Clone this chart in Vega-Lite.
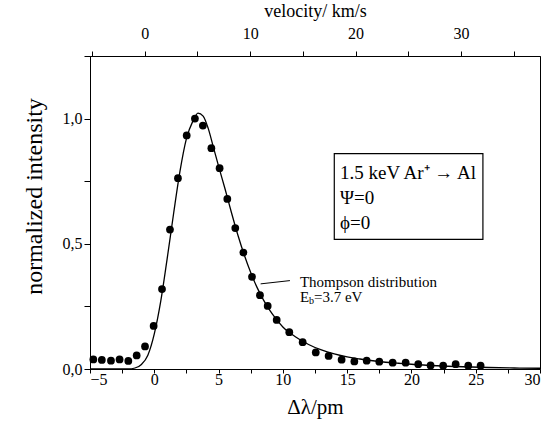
{
  "$schema": "https://vega.github.io/schema/vega-lite/v6.json",
  "width": 450,
  "height": 313,
  "autosize": "none",
  "padding": {"left": 90, "top": 56, "right": 11, "bottom": 52},
  "background": "white",
  "config": {
    "font": "Liberation Serif",
    "view": {"stroke": "black", "strokeWidth": 1},
    "axis": {
      "domainColor": "black", "tickColor": "black", "labelColor": "black", "titleColor": "black",
      "labelFont": "Times New Roman", "titleFont": "Times New Roman", "labelFontSize": 16,
      "titleFontWeight": "normal", "grid": false, "tickSize": 6, "labelPadding": 2
    }
  },
  "datasets": {
    "points": [
      {"dl": -4.74, "val": 0.038}, {"dl": -4.08, "val": 0.036}, {"dl": -3.37, "val": 0.033},
      {"dl": -2.70, "val": 0.038}, {"dl": -2.02, "val": 0.032}, {"dl": -1.37, "val": 0.054},
      {"dl": -0.72, "val": 0.090}, {"dl": -0.05, "val": 0.172}, {"dl": 0.60, "val": 0.319},
      {"dl": 1.22, "val": 0.557}, {"dl": 1.84, "val": 0.762}, {"dl": 2.52, "val": 0.933},
      {"dl": 3.16, "val": 1.000}, {"dl": 3.78, "val": 0.972}, {"dl": 4.44, "val": 0.882},
      {"dl": 5.08, "val": 0.802}, {"dl": 5.68, "val": 0.679}, {"dl": 6.30, "val": 0.563},
      {"dl": 6.93, "val": 0.465}, {"dl": 7.60, "val": 0.368}, {"dl": 8.22, "val": 0.295},
      {"dl": 8.82, "val": 0.252}, {"dl": 9.52, "val": 0.196}, {"dl": 10.50, "val": 0.147},
      {"dl": 11.54, "val": 0.107}, {"dl": 12.56, "val": 0.066}, {"dl": 13.56, "val": 0.052},
      {"dl": 14.57, "val": 0.037}, {"dl": 15.56, "val": 0.030}, {"dl": 16.52, "val": 0.033},
      {"dl": 17.50, "val": 0.029}, {"dl": 18.54, "val": 0.025}, {"dl": 19.55, "val": 0.025},
      {"dl": 20.53, "val": 0.019}, {"dl": 21.49, "val": 0.014}, {"dl": 22.47, "val": 0.013},
      {"dl": 23.44, "val": 0.019}, {"dl": 24.42, "val": 0.013}, {"dl": 25.38, "val": 0.013}
    ],
    "curve": [
      {"dl": -5, "val": 0}, {"dl": -2, "val": 0}, {"dl": -1.5, "val": 0.004}, {"dl": -1.0, "val": 0.018},
      {"dl": -0.5, "val": 0.055}, {"dl": 0.0, "val": 0.14}, {"dl": 0.5, "val": 0.27}, {"dl": 1.0, "val": 0.44},
      {"dl": 1.5, "val": 0.62}, {"dl": 2.0, "val": 0.79}, {"dl": 2.5, "val": 0.92}, {"dl": 3.0, "val": 0.99},
      {"dl": 3.4, "val": 1.022}, {"dl": 3.8, "val": 1.01}, {"dl": 4.2, "val": 0.96}, {"dl": 4.6, "val": 0.885},
      {"dl": 5.0, "val": 0.81}, {"dl": 5.5, "val": 0.72}, {"dl": 6.0, "val": 0.625}, {"dl": 6.5, "val": 0.535},
      {"dl": 7.0, "val": 0.455}, {"dl": 7.5, "val": 0.385}, {"dl": 8.0, "val": 0.325}, {"dl": 8.5, "val": 0.275},
      {"dl": 9.0, "val": 0.233}, {"dl": 9.5, "val": 0.198}, {"dl": 10, "val": 0.168}, {"dl": 11, "val": 0.128},
      {"dl": 12, "val": 0.098}, {"dl": 13, "val": 0.076}, {"dl": 14, "val": 0.060}, {"dl": 15, "val": 0.048},
      {"dl": 16, "val": 0.040}, {"dl": 17, "val": 0.033}, {"dl": 18, "val": 0.027}, {"dl": 19, "val": 0.023},
      {"dl": 20, "val": 0.019}, {"dl": 22, "val": 0.013}, {"dl": 24, "val": 0.009}, {"dl": 26, "val": 0.006},
      {"dl": 28, "val": 0.004}, {"dl": 30, "val": 0.003}
    ],
    "leader": [{"dl": 8.27, "val": 0.34, "dl2": 10.55, "val2": 0.353}],
    "box": [{"dl": 14.0, "dl2": 25.56, "val": 0.86, "val2": 0.518}],
    "boxtext": [
      {"dl": 14.44, "val": 0.783, "label": "1.5 keV Ar⁺ → Al"},
      {"dl": 14.44, "val": 0.683, "label": "Ψ=0"},
      {"dl": 14.44, "val": 0.585, "label": "ϕ=0"}
    ],
    "annot": [
      {"dl": 11.33, "val": 0.349, "label": "Thompson distribution"},
      {"dl": 11.33, "val": 0.289, "label": "E"},
      {"dl": 12.42, "val": 0.289, "label": "=3.7 eV"}
    ],
    "sub": [{"dl": 12.04, "val": 0.272, "label": "b"}],
    "vel": [{"v": 0}, {"v": 10}, {"v": 20}, {"v": 30}]
  },
  "layer": [
    {
      "encoding": {
        "x": {"field": "dl", "type": "quantitative",
          "scale": {"domain": [-5, 30], "nice": false, "zero": false},
          "axis": {"title": "Δλ/pm", "titleFontSize": 21, "titlePadding": 9,
            "labelFont": "Times New Roman", "titleFont": "Times New Roman", "tickSize": 4, "labelPadding": -1.5,
            "values": [-5, -2.5, 0, 2.5, 5, 7.5, 10, 12.5, 15, 17.5, 20, 22.5, 25, 27.5, 30],
            "labelExpr": "datum.value % 5 == 0 ? datum.label : ''"}},
        "y": {"field": "val", "type": "quantitative",
          "scale": {"domain": [0, 1.25], "nice": false},
          "axis": {"title": "normalized intensity", "titleFontSize": 24, "titlePadding": 16, "titleY": 140,
            "labelFont": "Times New Roman", "titleFont": "Times New Roman",
            "values": [0, 0.25, 0.5, 0.75, 1.0, 1.25],
            "labelExpr": "(datum.value * 2) % 1 == 0 ? replace(format(datum.value, '.1f'), '.', ',') : ''"}}
      },
      "layer": [
        {
          "data": {"name": "curve"},
          "mark": {"type": "line", "color": "black", "strokeWidth": 1.3, "interpolate": "monotone"}
        },
        {
          "data": {"name": "points"},
          "mark": {"type": "point", "filled": true, "color": "black", "opacity": 1, "size": 60}
        },
        {
          "data": {"name": "leader"},
          "mark": {"type": "rule", "color": "black", "strokeWidth": 1},
          "encoding": {"x2": {"field": "dl2"}, "y2": {"field": "val2"}}
        },
        {
          "data": {"name": "box"},
          "mark": {"type": "rect", "fillOpacity": 0, "stroke": "black", "strokeWidth": 1.2},
          "encoding": {"x2": {"field": "dl2"}, "y2": {"field": "val2"}}
        },
        {
          "data": {"name": "boxtext"},
          "mark": {"type": "text", "align": "left", "baseline": "middle", "fontSize": 19, "font": "Liberation Serif", "color": "black"},
          "encoding": {"text": {"field": "label"}}
        },
        {
          "data": {"name": "annot"},
          "mark": {"type": "text", "align": "left", "baseline": "middle", "fontSize": 15, "font": "Liberation Serif", "color": "black"},
          "encoding": {"text": {"field": "label"}}
        },
        {
          "data": {"name": "sub"},
          "mark": {"type": "text", "align": "left", "baseline": "middle", "fontSize": 10, "font": "Liberation Serif", "color": "black"},
          "encoding": {"text": {"field": "label"}}
        }
      ]
    },
    {
      "data": {"name": "vel"},
      "mark": {"type": "point", "opacity": 0},
      "encoding": {
        "x": {"field": "v", "type": "quantitative",
          "scale": {"domain": [-5.2, 37.5], "nice": false, "zero": false},
          "axis": {"orient": "top", "title": "velocity/ km/s", "titleFontSize": 18, "titlePadding": 5,
            "labelFont": "Times New Roman", "titleFont": "Times New Roman", "tickSize": 5, "labelPadding": 10,
            "values": [-5, 0, 5, 10, 15, 20, 25, 30, 35],
            "labelExpr": "datum.value % 10 == 0 ? datum.label : ''"}}
      }
    }
  ],
  "resolve": {"scale": {"x": "independent"}}
}
